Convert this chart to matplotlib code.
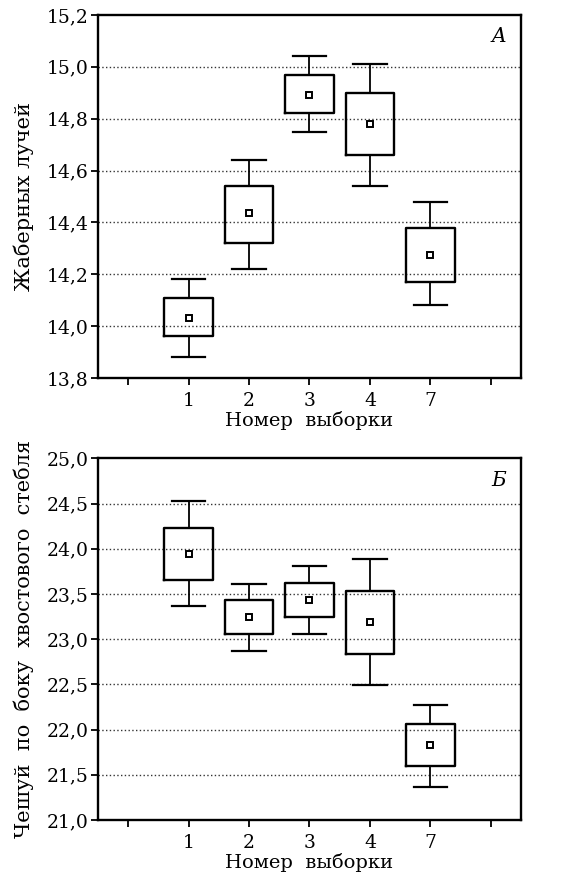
import matplotlib
matplotlib.use("Agg")
import matplotlib.pyplot as plt

groups = ['1', '2', '3', '4', '7']

# panel A: gill rakers
gill_whislo = [13.88, 14.22, 14.75, 14.54, 14.08]
gill_q1 = [13.96, 14.32, 14.82, 14.66, 14.17]
gill_mean = [14.03, 14.435, 14.89, 14.78, 14.275]
gill_q3 = [14.11, 14.54, 14.97, 14.90, 14.38]
gill_whishi = [14.18, 14.64, 15.04, 15.01, 14.48]
gill_ticks = [13.8, 14.0, 14.2, 14.4, 14.6, 14.8, 15.0, 15.2]

# panel B: scales on caudal peduncle
scale_whislo = [23.37, 22.87, 23.06, 22.49, 21.37]
scale_q1 = [23.65, 23.06, 23.24, 22.84, 21.60]
scale_mean = [23.94, 23.245, 23.435, 23.19, 21.83]
scale_q3 = [24.23, 23.43, 23.62, 23.53, 22.06]
scale_whishi = [24.53, 23.61, 23.81, 23.89, 22.27]
scale_ticks = [21.0, 21.5, 22.0, 22.5, 23.0, 23.5, 24.0, 24.5, 25.0]

plt.rcParams['font.family'] = ['DejaVu Serif']


def draw(ax, lo, q1, mean, q3, hi, yticks, ylabel, letter):
    '''One box panel'''
    stats = []
    for i in range(len(groups)):
        stats.append({'whislo': lo[i], 'q1': q1[i], 'med': mean[i],
                      'q3': q3[i], 'whishi': hi[i], 'mean': mean[i]})
    ax.bxp(stats, positions=range(1, len(groups) + 1), widths=0.8,
           capwidths=0.55, showmeans=True, showfliers=False,
           boxprops=dict(color='black', linewidth=1.7),
           whiskerprops=dict(color='black', linewidth=1.3),
           capprops=dict(color='black', linewidth=1.6),
           medianprops=dict(linestyle='none'),
           meanprops=dict(marker='s', markersize=5,
                          markerfacecolor='white', markeredgecolor='black',
                          markeredgewidth=1.4))
    ax.set_xlim(-0.5, 6.5)
    ax.set_ylim(yticks[0], yticks[-1])
    ax.set_xticks(range(0, 7))
    ax.set_xticklabels([''] + groups + [''])
    ax.set_yticks(yticks)
    ax.set_yticklabels([f"{t:.1f}".replace('.', ',') for t in yticks])
    for t in yticks[1:-1]:
        ax.axhline(t, color='0.2', linestyle=(0, (1, 1.7)),
                   linewidth=1.0, zorder=0)
    ax.tick_params(direction='out', length=5, width=1.3, labelsize=13.5,
                   colors='black')
    ax.tick_params(axis='y', pad=2)
    ax.tick_params(axis='x', pad=5)
    for s in ax.spines.values():
        s.set_linewidth(1.7)
    ax.set_xlabel("Номер  выборки", fontsize=14, labelpad=1)
    ax.set_ylabel(ylabel, fontsize=15, labelpad=9)
    ax.text(0.965, 0.94, letter, transform=ax.transAxes, ha='right',
            va='center', fontsize=14.5, style='italic')


def main():
    '''Main'''
    fig = plt.figure(figsize=(5.72, 8.80), dpi=100)
    ax1 = fig.add_axes([0.1713, 0.5705, 0.7395, 0.4125])
    ax2 = fig.add_axes([0.1713, 0.0682, 0.7395, 0.411])

    draw(ax1, gill_whislo, gill_q1, gill_mean, gill_q3, gill_whishi,
         gill_ticks, "Жаберных лучей", "A")
    draw(ax2, scale_whislo, scale_q1, scale_mean, scale_q3, scale_whishi,
         scale_ticks, "Чешуй  по  боку  хвостового  стебля", "Б")

    fig.savefig("out.png", dpi=100)


if __name__ == "__main__":
    main()
